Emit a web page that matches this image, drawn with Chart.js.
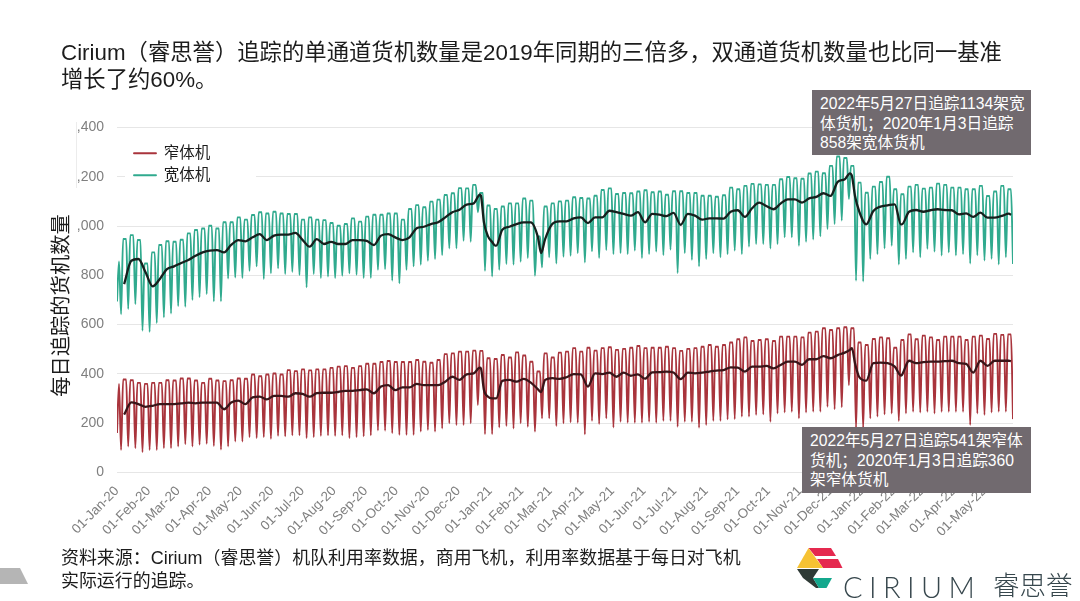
<!DOCTYPE html>
<html lang="zh"><head><meta charset="utf-8">
<script src="https://cdn.jsdelivr.net/npm/chart.js@4"></script>
<style>
html,body{margin:0;padding:0;background:#fff;width:1080px;height:601px;overflow:hidden}
body{position:relative;font-family:"Liberation Sans","Noto Sans CJK SC",sans-serif;color:#1c1c1c}
canvas{position:absolute;left:0;top:0}
.t{position:absolute;white-space:nowrap}
#title{left:61px;top:39px;font-size:22.35px;line-height:27px}
#foot{left:61px;top:547px;font-size:17.95px;line-height:23px}
.note{position:absolute;background:#716a6f;color:#fff;font-size:15.7px;line-height:19.5px;white-space:nowrap;box-sizing:border-box}
#n1{left:812px;top:90px;width:219px;height:65px;padding:4px 0 0 8px}
#n2{left:802px;top:427px;width:229px;height:66px;padding:4px 0 0 8px}
#cirium{left:843px;top:571px;font-family:Lato,"Liberation Sans";font-weight:300;font-size:29px;letter-spacing:6.4px;color:#37474d;line-height:32px}
#cn{left:993px;top:570px;font-size:26.5px;color:#37474d;line-height:32px;font-weight:300}
#edge{position:absolute;left:76px;top:122px;width:1px;height:66px;background:#ececec}
svg{position:absolute;left:0;top:0}
</style></head><body>
<canvas id="c" width="1080" height="601"></canvas>
<div id="edge"></div>
<svg width="1080" height="601">
<polygon points="0,568 20,568 28,584 0,584" fill="#b5b5b5"/>
<polygon points="808.5,548 831,548 836,556 815,556" fill="#e5294f"/>
<polygon points="817,559 838,559 842.5,568 823,568" fill="#e5294f"/>
<polygon points="808.5,548 823,568 797,568" fill="#f6c233"/>
<polygon points="797,569 819,569 813,578 803,578" fill="#2f3b36"/>
<polygon points="803,578 813,578 819,588 816,588" fill="#2f3b36"/>
<polygon points="813,578 832,578 826.5,588 819,588" fill="#14a88d"/>
</svg>
<div class="t" id="title">Cirium（睿思誉）追踪的单通道货机数量是2019年同期的三倍多，双通道货机数量也比同一基准<br>增长了约60%。</div>
<div class="note" id="n1">2022年5月27日追踪1134架宽<br>体货机；2020年1月3日追踪<br>858架宽体货机</div>
<div class="note" id="n2">2022年5月27日追踪541架窄体<br>货机；2020年1月3日追踪360<br>架窄体货机</div>
<div class="t" id="foot">资料来源：Cirium（睿思誉）机队利用率数据，商用飞机，利用率数据基于每日对飞机<br>实际运行的追踪。</div>
<div class="t" id="cirium">CIRIUM</div>
<div class="t" id="cn">睿思誉</div>
<script>
const monthLabels=['01-Jan-20','01-Feb-20','01-Mar-20','01-Apr-20','01-May-20','01-Jun-20','01-Jul-20','01-Aug-20','01-Sep-20','01-Oct-20','01-Nov-20','01-Dec-20','01-Jan-21','01-Feb-21','01-Mar-21','01-Apr-21','01-May-21','01-Jun-21','01-Jul-21','01-Aug-21','01-Sep-21','01-Oct-21','01-Nov-21','01-Dec-21','01-Jan-22','01-Feb-22','01-Mar-22','01-Apr-22','01-May-22'];
const monthDays=[0,31,60,91,121,152,182,213,244,274,305,335,366,397,425,456,486,517,547,578,609,639,670,700,731,762,790,821,851];
const yTickLabels=['0','200','400','600','800',',000',',200',',400'];
const seriesNames=['窄体机','宽体机'];

const wideStart=[694,856];
const wideTroughs=[642,663,683,575,570,606,629,645,675,672,700,711,724,694,694,787,791,789,818,836,
785,808,828,805,814,801,751,805,789,795,789,798,808,802,789,789,822,825,778,767,822,836,
843,859,866,882,909,909,940,936,1056,818,795,822,846,843,855,870,798,832,873,848,875,
879,890,852,897,870,902,886,890,886,900,870,886,896,882,904,809,890,863,836,866,890,
873,886,900,886,916,927,927,909,927,954,954,920,936,945,958,988,1008,1022,1110,778,775,
866,886,909,920,844,866,893,873,907,896,880,893,880,886,848,881,860,867,844,873,846];
const widePeaks=[947,963,943,848,893,923,938,936,944,970,984,990,1001,990,1015,1015,1035,1026,1045,1056,
1051,1058,1051,1049,1049,1026,1035,1026,1024,1012,1001,1008,1031,1018,1038,1046,1046,1051,1051,1026,1069,1085,
1076,1099,1107,1126,1133,1154,1153,1167,1134,1083,1069,1079,1092,1092,1112,1103,958,1079,1092,1100,1103,
1117,1114,1112,1123,1146,1153,1130,1134,1133,1140,1145,1137,1140,1127,1141,1141,1134,1134,1123,1123,1119,
1125,1156,1149,1163,1171,1169,1167,1167,1190,1199,1194,1192,1213,1221,1214,1244,1282,1276,1244,1176,1135,
1160,1179,1200,1149,1129,1160,1167,1152,1156,1172,1167,1156,1156,1149,1149,1163,1122,1140,1163,1149];

const narrowStart=[160,359];
const narrowTroughs=[91,105,98,82,91,91,98,98,105,114,105,112,116,107,92,105,125,125,143,139,143,136,148,146,150,150,139,143,148,150,148,150,139,143,146,150,170,169,159,152,152,152,
165,172,165,178,199,192,192,199,273,155,155,182,188,178,199,185,165,219,219,188,199,
203,201,154,209,196,219,182,205,201,201,201,205,201,209,209,185,205,205,181,192,209,
209,215,216,226,226,233,235,205,239,243,246,219,243,246,246,266,256,264,354,178,178,
219,226,235,239,208,239,246,243,246,239,246,246,246,246,192,239,233,243,246,246,216];
const narrowPeaks=[377,374,363,359,363,363,374,373,381,381,373,363,380,373,370,374,381,380,397,390,397,401,397,415,411,418,414,418,418,424,429,431,424,431,441,441,448,452,448,448,448,456,
449,445,456,480,483,490,490,494,493,463,460,476,466,487,474,449,409,483,466,486,490,
504,490,506,494,504,508,497,501,506,513,504,506,506,510,504,493,501,504,510,517,510,
517,527,540,548,533,537,540,533,551,551,551,548,567,571,585,578,585,589,585,527,517,
541,548,544,506,537,560,540,555,548,537,551,551,551,537,551,555,541,562,558,560];

const wideAvg=[764,859,866,812,755,785,825,836,850,862,879,893,900,902,893,923,943,938,954,967,
943,961,965,965,972,944,916,947,927,936,927,927,943,943,940,923,961,967,954,943,954,
991,997,1008,1015,1035,1056,1066,1087,1092,1123,958,920,985,997,1008,1015,1015,954,947,1008,1019,
1019,1031,1035,1012,1035,1035,1062,1056,1049,1042,1056,1015,1049,1046,1040,1053,1005,1049,1042,1026,1031,
1031,1030,1058,1064,1037,1072,1095,1081,1068,1091,1108,1108,1095,1112,1118,1133,1122,1179,1190,1203,1061,
1007,1061,1079,1084,1088,1007,1058,1065,1058,1064,1068,1065,1064,1047,1051,1037,1054,1034,1034,1041,1050];
const narrowAvg=[234,284,277,266,270,277,277,277,280,283,280,283,283,283,256,283,291,277,304,307,
296,310,310,307,321,318,307,321,323,323,326,331,331,334,337,321,348,354,334,345,345,
359,354,354,354,368,388,375,398,402,422,307,300,371,375,368,379,364,337,375,382,379,
386,399,398,348,402,399,405,388,405,392,398,380,406,407,409,405,378,405,402,405,409,
413,415,426,425,409,429,429,432,422,436,449,449,436,459,459,472,463,476,486,504,388,
372,443,445,443,429,395,453,443,447,449,449,451,453,443,440,405,453,432,453,453,453];
const avgDetailDays=[356,360,368,372,416,719,724,769,877];
const wideAvgDetail=[1127,1015,935,920,890,1214,1122,1007,1045];
const narrowAvgDetail=[425,334,300,300,326,497,443,393,451];

function cycleLine(start,troughs,peaks){
  const pts=[{x:0,y:start[0]},{x:2,y:start[1]}];
  troughs.forEach((v,k)=>{
    const d=4+7*k;
    pts.push({x:d,y:v});
    if(k<peaks.length){pts.push({x:d+2,y:peaks[k]});pts.push({x:d+5,y:peaks[k]});}
  });
  return pts;
}
function avgLine(vals,detail){
  const pts=vals.map((v,j)=>({x:7+7*j,y:v}));
  avgDetailDays.forEach((d,i)=>{const hit=pts.find(p=>p.x===d); if(!hit) pts.push({x:d,y:detail[i]});});
  return pts.sort((a,b)=>a.x-b.x);
}
const cjk='"Liberation Sans","Noto Sans CJK SC",sans-serif';
const moveLegend={id:'moveLegend',afterLayout(chart){
  const lg=chart.legend; if(!lg||lg._wrapped) return;
  const orig=lg.draw; lg._wrapped=true;
  lg.draw=function(){
    const c=chart.ctx; c.save(); c.fillStyle='#fff'; c.fillRect(125,170,131,15); c.restore();
    this.left=127.5; this.right=300; this.top=139; this.bottom=200;
    orig.call(this);
  };
}};
new Chart(document.getElementById('c'),{
  type:'line',
  data:{datasets:[
    {label:seriesNames[0],data:cycleLine(narrowStart,narrowTroughs,narrowPeaks),borderColor:'#a9343c',backgroundColor:'#a9343c',borderWidth:1.9,order:2},
    {label:seriesNames[1],data:cycleLine(wideStart,wideTroughs,widePeaks),borderColor:'#30aa8e',backgroundColor:'#30aa8e',borderWidth:1.9,order:2},
    {label:'窄体机七日均值',data:avgLine(narrowAvg,narrowAvgDetail),borderColor:'#3a1519',backgroundColor:'#3a1519',borderWidth:2.3,order:1},
    {label:'宽体机七日均值',data:avgLine(wideAvg,wideAvgDetail),borderColor:'#16201d',backgroundColor:'#16201d',borderWidth:2.3,order:1}
  ]},
  plugins:[moveLegend],
  options:{
    responsive:false,animation:false,devicePixelRatio:1,
    parsing:false,
    elements:{point:{radius:0,hitRadius:0},line:{cubicInterpolationMode:'monotone',borderJoinStyle:'round'}},
    layout:{autoPadding:false,padding:{left:0,top:127.5,right:67,bottom:0}},
    plugins:{
      tooltip:{enabled:false},title:{display:false},
      legend:{position:'chartArea',align:'start',
        labels:{boxWidth:22,boxHeight:0,padding:6.5,color:'#1c1c1c',font:{size:15.5,family:cjk},
          filter:i=>i.datasetIndex<2}}
    },
    scales:{
      x:{type:'linear',min:0,max:879,
        grid:{display:false},border:{display:false},
        afterBuildTicks:s=>{s.ticks=monthDays.map(v=>({value:v}));},
        afterFit:s=>{s.height=128.7;},
        ticks:{autoSkip:false,minRotation:45,maxRotation:45,padding:3,color:'#7f7f7f',font:{size:13.4,family:'"Liberation Sans"'},
          callback:(v,i)=>monthLabels[i]}},
      y:{min:0,max:1400,
        grid:{color:'#e6e6e6',lineWidth:1,drawTicks:false},border:{display:false},
        afterFit:s=>{s.width=117;},
        title:{display:true,text:'每日追踪的货机数量  ',color:'#1c1c1c',font:{size:20.3,family:cjk},padding:{top:50,bottom:0}},
        ticks:{stepSize:200,padding:13,color:'#7f7f7f',font:{size:14,family:'"Liberation Sans"'},
          callback:v=>yTickLabels[v/200]}}
    }
  }
});
</script>
</body></html>
